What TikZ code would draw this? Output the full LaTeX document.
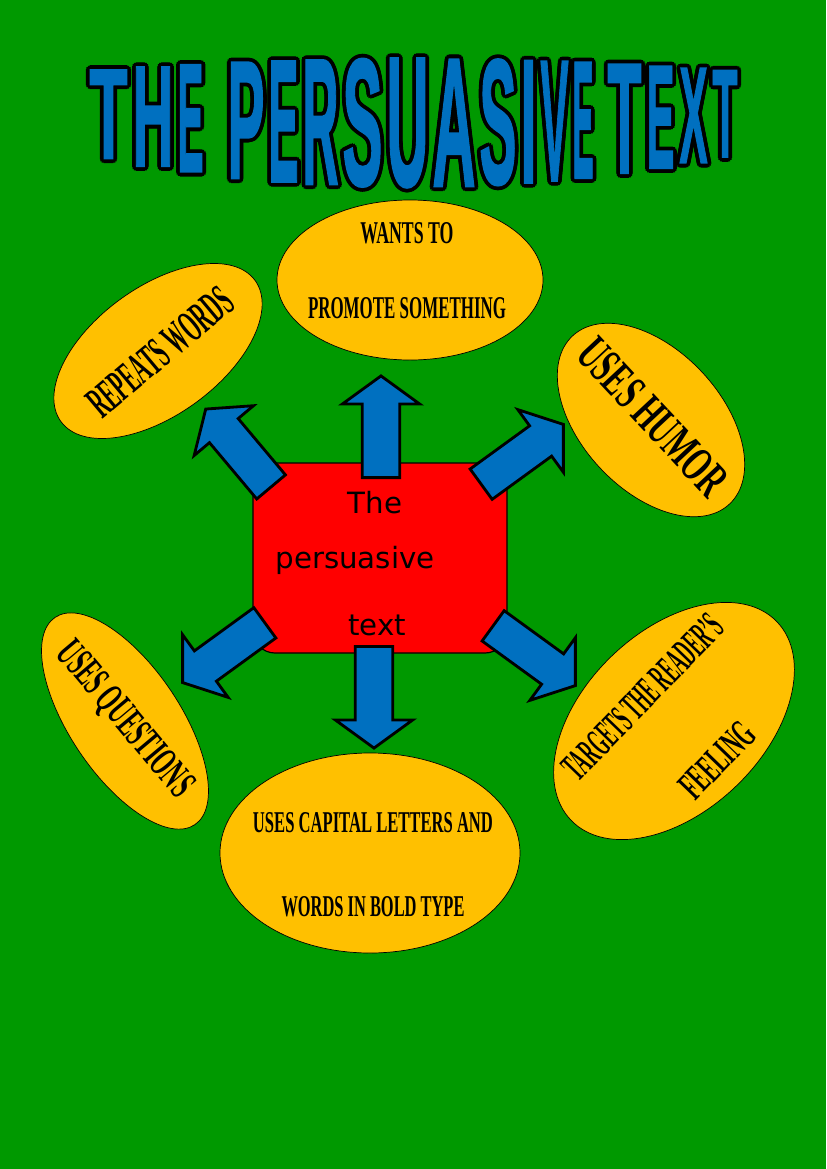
\documentclass[tikz,border=0pt]{standalone}
\usepackage{fontspec}
\setmainfont{Liberation Serif}
\newfontfamily\titlefont{Liberation Sans}[BoldFeatures={FakeBold=1.5}]
\newfontfamily\handfont{DejaVu Sans}
\usetikzlibrary{shapes.geometric,shapes.arrows}

\definecolor{pagegreen}{RGB}{0,153,0}
\definecolor{gold}{RGB}{255,192,0}
\definecolor{wordblue}{RGB}{0,112,192}
\definecolor{boxred}{RGB}{255,0,0}

% one pixel of the page
\newdimen\px \px=0.03cm
\newsavebox\lettbox
\newsavebox\lettboxfill
\newcommand{\squeeze}[3]{\resizebox{#1\px}{#2\px}{#3}}
\newcommand{\outlined}[3]{%
	\sbox\lettbox{\color{black}\resizebox{#1\px}{#2\px}{#3}}%
	\sbox\lettboxfill{\color{wordblue}\resizebox{#1\px}{#2\px}{#3}}%
	\foreach \ang in {0,30,...,330}{%
		\pgfmathsetmacro\ox{3.8*cos(\ang)}%
		\pgfmathsetmacro\oy{3.8*sin(\ang)}%
		\rlap{\hspace*{\ox\px}\raisebox{\oy\px}{\usebox\lettbox}}}%
	\usebox\lettboxfill}

\begin{document}
\begin{tikzpicture}[
	x=0.03cm, y=-0.03cm,
	letter/.style     = {inner sep=0pt, font=\titlefont\bfseries},
	bubble/.style     = {ellipse, draw=black, line width=0.6pt, fill=gold, inner sep=0pt},
	phrase/.style     = {inner sep=0pt, font=\bfseries},
	centrebox/.style  = {rectangle, rounded corners=0.66cm, draw=black, line width=1pt,
		fill=boxred, minimum width=7.62cm, minimum height=5.7cm},
	hand/.style       = {anchor=base, inner sep=0pt, font=\handfont\fontsize{25}{30}\selectfont},
	blockarrow/.style = {single arrow, draw=black, line width=2.4pt, fill=wordblue,
		inner xsep=0pt, inner ysep=0.52cm, single arrow head extend=0.6cm,
		single arrow tip angle=108, minimum height=3.05cm, anchor=tail}
	]
	
	% ===================== Page =====================
	\fill[pagegreen] (0,0) rectangle (826,1169);
	\useasboundingbox (0,0) rectangle (826,1169);
	
	% ===================== Title =====================
	\foreach \ch/\lx/\w [count=\i] in {T/88/41, H/131/44, E/176/29,
		P/226/40, E/267/33, R/301/39, S/341/43, U/385/45, A/431/46, S/478/40, I/519/19, V/539/31, E/571/24,
		T/606/37, E/645/31, X/678/31, T/711/28}{
		\pgfmathsetmacro\cx{\lx+\w/2}
		\pgfmathsetmacro\f{1-((\cx-413)/325)^2}
		\pgfmathsetmacro\tp{68-12*\f}
		\pgfmathsetmacro\bt{158+32*\f}
		\pgfmathsetmacro\cy{(\tp+\bt)/2}
		\pgfmathsetmacro\iw{\w-3}
		\pgfmathsetmacro\ih{\bt-\tp-7}
		\node[letter] (ttl\i) at (\cx,\cy) {\outlined{\iw}{\ih}{\ch}};
	}
	
	% ===================== Bubbles =====================
	\node[bubble, minimum width=7.98cm, minimum height=4.8cm] (promote) at (410,280) {};
	\node[phrase] (promoteA) at (407,233) {\squeeze{93}{21}{WANTS TO}};
	\node[phrase] (promoteB) at (407,308) {\squeeze{198}{21}{PROMOTE SOMETHING}};
	
	\node[bubble, minimum width=7.2cm, minimum height=3.84cm, rotate=36] (repeats) at (158,351) {};
	\node[phrase, rotate=40] (repeatsA) at (160,352) {\squeeze{176}{30}{REPEATS WORDS}};
	
	\node[bubble, minimum width=6.9cm, minimum height=4.2cm, rotate=-47] (humor) at (651,420) {};
	\node[phrase, rotate=-47] (humorA) at (653,417) {\squeeze{196}{33}{USES HUMOR}};
	
	\node[bubble, minimum width=8.58cm, minimum height=5.4cm, rotate=44] (targets) at (674,721) {};
	\node[phrase, rotate=46] (targetsA) at (643,697) {\squeeze{212}{27}{TARGETS THE READER'S}};
	\node[phrase, rotate=46] (targetsB) at (717,760) {\squeeze{90}{27}{FEELING}};
	
	\node[bubble, minimum width=7.5cm, minimum height=3.3cm, rotate=-56] (questions) at (125,721) {};
	\node[phrase, rotate=-50] (questionsA) at (124,720) {\squeeze{190}{28}{USES QUESTIONS}};
	
	\node[bubble, minimum width=9cm, minimum height=6cm] (capital) at (370,853) {};
	\node[phrase] (capitalA) at (373,823) {\squeeze{240}{20}{USES CAPITAL LETTERS AND}};
	\node[phrase] (capitalB) at (373,907) {\squeeze{183}{20}{WORDS IN BOLD TYPE}};
	
	% ===================== Centre and arrows =====================
	\node[centrebox] (core) at (380,558) {};
	
	\node[blockarrow, rotate=90]  (toPromote)   at (381,479) {};
	\node[blockarrow, rotate=130] (toRepeats)   at (272,488) {};
	\node[blockarrow, rotate=36]  (toHumor)     at (480,485) {};
	\node[blockarrow, rotate=216] (toQuestions) at (266,622) {};
	\node[blockarrow, rotate=270] (toCapital)   at (374,645) {};
	\node[blockarrow, rotate=-36] (toTargets)   at (492,625) {};
	
	\node[hand] (coreA) at (375,513) {The};
	\node[hand] (coreB) at (355,568) {persuasive};
	\node[hand] (coreC) at (377,635) {text};
	
\end{tikzpicture}
\end{document}
